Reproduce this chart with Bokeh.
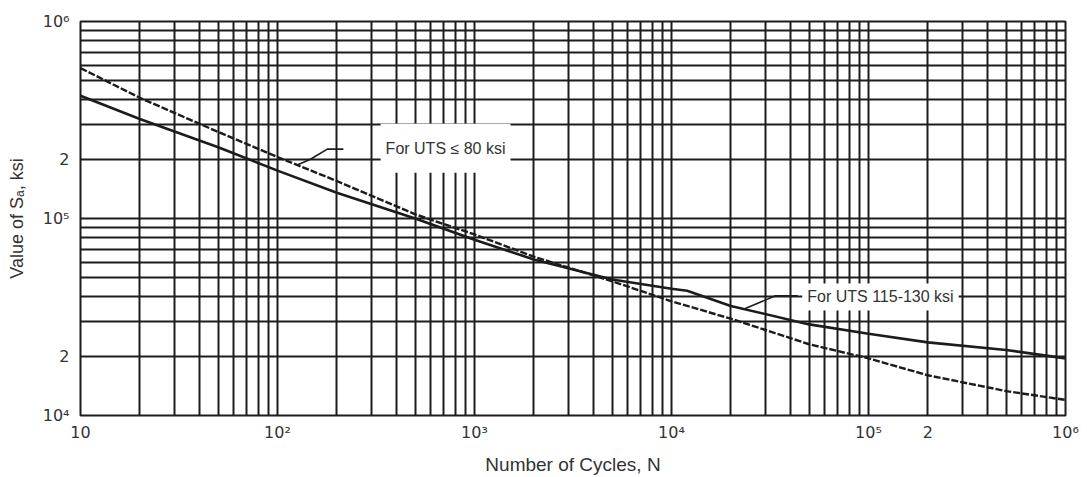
from bokeh.plotting import figure
from bokeh.models import FixedTicker, Label, Range1d
from bokeh.embed import file_html
from bokeh.resources import INLINE

# ---- data ----
cycles_80 = [10, 20, 50, 100, 200, 500, 1e3, 2e3, 5e3, 1e4, 2e4, 5e4, 1e5, 2e5, 5e5, 1e6]
sa_80 = [580e3, 410e3, 275e3, 205e3, 155e3, 105e3, 83e3, 64e3, 48e3, 38e3, 31e3, 23e3, 19.5e3, 16e3, 13.3e3, 12.0e3]

cycles_115 = [10, 20, 50, 100, 200, 500, 1e3, 2e3, 5e3, 1e4, 1.2e4, 2e4, 5e4, 1e5, 2e5, 5e5, 1e6]
sa_115 = [420e3, 320e3, 230e3, 175e3, 135e3, 100e3, 78e3, 62e3, 49e3, 44e3, 43e3, 36e3, 29e3, 26e3, 23.5e3, 21.5e3, 19.5e3]

x_ticks = [10, 100, 1e3, 1e4, 1e5, 2e5, 1e6]
x_tick_labels = ["10", "10²", "10³", "10⁴", "10⁵", "2", "10⁶"]
y_ticks = [1e4, 2e4, 1e5, 2e5, 1e6]
y_tick_labels = ["10⁴", "2", "10⁵", "2", "10⁶"]

grid_x = [m * 10 ** d for d in range(1, 6) for m in range(1, 10)] + [1e6]
grid_y = [m * 10 ** d for d in range(4, 6) for m in range(1, 10)] + [1e6]

x_title = "Number of Cycles, N"
y_title = "Value of Sₐ, ksi"

label_80 = "For UTS ≤ 80 ksi"
label_80_pos = (713, 227.5e3)
leader_80_x = [216, 179, 147, 126]
leader_80_y = [225e3, 225e3, 200e3, 187e3]

label_115 = "For UTS 115-130 ksi"
label_115_pos = (115e3, 40.0e3)
leader_115_x = [43.7e3, 33.7e3, 23.2e3]
leader_115_y = [40.5e3, 40.5e3, 34.6e3]

FONT = "Liberation Sans"
TICK_FONT = "DejaVu Sans"
INK = "#1c1c1c"
TXT = "#333333"

p = figure(width=1087, height=477, x_axis_type="log", y_axis_type="log",
           x_range=Range1d(10, 1e6), y_range=Range1d(1e4, 1e6),
           output_backend="svg", toolbar_location=None,
           min_border_left=80, min_border_right=22, min_border_top=21, min_border_bottom=61)

p.background_fill_color = "white"
p.border_fill_color = "white"
p.outline_line_color = INK
p.outline_line_width = 2

for ax, ticks, labels in ((p.xaxis[0], x_ticks, x_tick_labels),
                          (p.yaxis[0], y_ticks, y_tick_labels)):
    ax.ticker = FixedTicker(ticks=ticks)
    ax.major_label_overrides = {t: l for t, l in zip(ticks, labels)}
    ax.major_tick_line_color = None
    ax.major_tick_out = 0
    ax.major_tick_in = 0
    ax.minor_tick_line_color = None
    ax.minor_tick_out = 0
    ax.axis_line_color = None
    ax.major_label_text_font = TICK_FONT
    ax.major_label_text_font_size = "16px"
    ax.major_label_text_color = TXT
    ax.axis_label_text_font = FONT
    ax.axis_label_text_font_style = "normal"
    ax.axis_label_text_color = TXT

p.xaxis.major_label_standoff = 7
p.xaxis.axis_label = x_title
p.xaxis.axis_label_text_font_size = "19px"
p.xaxis.axis_label_standoff = 9

p.yaxis.major_label_standoff = 11
p.yaxis.axis_label = y_title
p.yaxis.axis_label_text_font_size = "18px"
p.yaxis.axis_label_standoff = 13

p.xgrid.ticker = FixedTicker(ticks=grid_x)
p.ygrid.ticker = FixedTicker(ticks=grid_y)
for g in (p.xgrid[0], p.ygrid[0]):
    g.grid_line_color = INK
    g.grid_line_width = 2
    g.grid_line_alpha = 1.0

p.line(cycles_115, sa_115, line_color=INK, line_width=2.6)
p.line(cycles_80, sa_80, line_color=INK, line_width=2.4, line_dash="7 2")

p.line(leader_80_x, leader_80_y, line_color=INK, line_width=1.6)
p.line(leader_115_x, leader_115_y, line_color=INK, line_width=1.6)

p.add_layout(Label(x=label_80_pos[0], y=label_80_pos[1], text=label_80, anchor="center",
                   text_font=FONT, text_font_size="16px", text_color=TXT,
                   background_fill_color="white", padding=(5, 16)))
p.add_layout(Label(x=label_115_pos[0], y=label_115_pos[1], text=label_115, anchor="center",
                   text_font=FONT, text_font_size="16px", text_color=TXT,
                   background_fill_color="white", padding=(5, 5)))

open("out.html", "w").write(file_html(p, INLINE))
